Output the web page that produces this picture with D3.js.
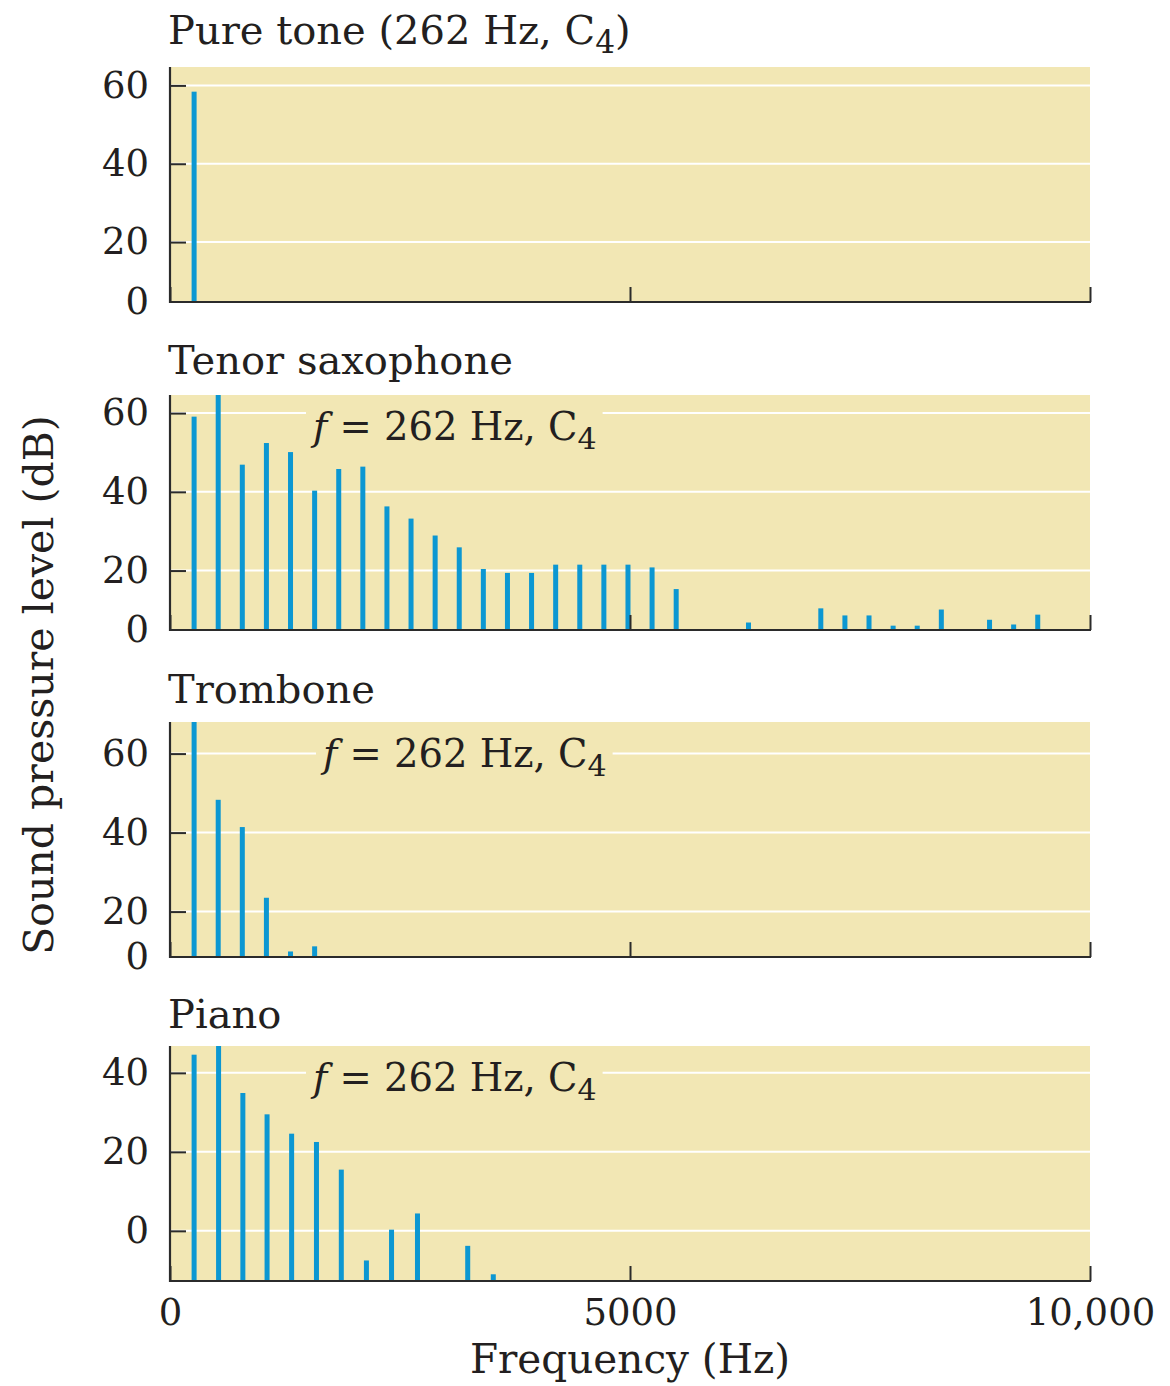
<!DOCTYPE html>
<html><head><meta charset="utf-8">
<script src="https://cdn.jsdelivr.net/npm/d3@7"></script>
<style>
html,body{margin:0;padding:0;background:#fff;}
svg text{font-family:"DejaVu Serif","Liberation Serif",serif;fill:#231f20;}
</style></head>
<body><svg id="chart" width="1170" height="1386"></svg>
<script>
// ---------- data ----------
const panelTitles = ["Pure tone (262 Hz, C_4)", "Tenor saxophone", "Trombone", "Piano"];
const annotationText = "f = 262 Hz, C_4";

const freqPure = [262];
const dbPure = [58.4];

const freqSax = [262,524,786,1048,1310,1572,1834,2096,2358,2620,2882,3144,3406,3668,3930,4192,4454,4716,4978,5240,5502,
                 6288,7074,7336,7598,7860,8122,8384,8908,9170,9432];
const dbSax = [59.1,64.6,46.9,52.4,50.1,40.3,45.8,46.4,36.3,33.2,28.9,25.9,20.4,19.4,19.4,21.5,21.5,21.5,21.5,20.8,15.3,
               6.8,10.4,8.6,8.6,6.0,6.0,10.1,7.5,6.3,8.8];

const freqTrombone = [262,524,786,1048,1310,1572];
const dbTrombone = [68,48.3,41.4,23.5,9.9,11.2];

const freqPiano = [262,528,792,1055,1322,1592,1862,2135,2408,2690,3236,3514];
const dbPiano = [44.6,46.8,34.9,29.5,24.6,22.5,15.5,-7.5,0.3,4.4,-3.8,-11.0];

const yDomains = [[4.7,64.7],[4.9,64.6],[8.5,68],[-12.7,46.8]];
const yTickValues = [[20,40,60],[20,40,60],[20,40,60],[0,20,40]];
const zeroLabelAtBottom = [true,true,true,false];
const showAnnotation = [false,true,true,true];

const xDomain = [0,10000];
const xTickValues = [0,5000,10000];
const xTickLabels = ["0","5000","10,000"];
const xAxisTitle = "Frequency (Hz)";
const yAxisTitle = "Sound pressure level (dB)";

// ---------- layout ----------
const freqs = [freqPure, freqSax, freqTrombone, freqPiano];
const dbs = [dbPure, dbSax, dbTrombone, dbPiano];
const plotLeft = 170, plotRight = 1090;
const panelTops = [67,395,722,1046];
const panelHeight = 235;
const titleOffsets = [23,21,19,18];
const annotationX = [313,313,323,313];
const annotationDy = 45;
const bgColor = "#f2e7b4";
const barColor = "#0c97d2";
const axisColor = "#2b2b2b";
const fontSize = 37;
const titleSize = 40;
const axisTitleSize = 40.5;

const svg = d3.select("#chart");
const x = d3.scaleLinear().domain(xDomain).range([plotLeft, plotRight]);

function richText(sel, str, size, opts={}) {
  // "_4" => subscript 4 ; leading "f" italic if opts.italicF
  const parts = str.split("_");
  if (opts.italicF && parts[0].startsWith("f")) {
    sel.append("tspan").attr("font-style","italic").text("f");
    sel.append("tspan").text(parts[0].slice(1));
  } else {
    sel.append("tspan").text(parts[0]);
  }
  for (let i=1;i<parts.length;i++){
    const sub = parts[i][0], rest = parts[i].slice(1);
    sel.append("tspan").attr("font-size", size*0.78).attr("dy", 9).text(sub);
    if (rest.length) sel.append("tspan").attr("dy", -9).text(rest);
  }
}

panelTitles.forEach((title, i) => {
  const top = panelTops[i], bottom = top + panelHeight;
  const y = d3.scaleLinear().domain(yDomains[i]).range([bottom, top]).clamp(true);
  const g = svg.append("g");

  g.append("rect").attr("x", plotLeft).attr("y", top)
    .attr("width", plotRight - plotLeft).attr("height", panelHeight).attr("fill", bgColor);

  g.append("g").selectAll("line").data(yTickValues[i]).join("line")
    .attr("x1", plotLeft).attr("x2", plotRight)
    .attr("y1", d => y(d)).attr("y2", d => y(d))
    .attr("stroke", "#fff").attr("stroke-width", 2);

  // annotation
  if (showAnnotation[i]) {
    const t = g.append("text").attr("x", annotationX[i]).attr("y", top + annotationDy)
      .attr("font-size", 38.5);
    richText(t, annotationText, 38.5, {italicF:true});
    const bb = t.node().getBBox();
    g.insert("rect", "text").attr("x", bb.x - 4).attr("y", bb.y + 2)
      .attr("width", bb.width + 10).attr("height", bb.height - 4).attr("fill", bgColor);
  }

  // bars
  g.append("g").selectAll("rect").data(freqs[i].map((f,k)=>({f, db: dbs[i][k]}))).join("rect")
    .attr("x", d => x(d.f) - 2.5).attr("width", 5)
    .attr("y", d => y(d.db)).attr("height", d => bottom - y(d.db))
    .attr("fill", barColor);

  // y axis
  const yt = yTickValues[i].concat(zeroLabelAtBottom[i] ? [yDomains[i][0]] : []);
  const ya = g.append("g").attr("transform", `translate(${plotLeft},0)`)
    .call(d3.axisLeft(y).tickValues(yt).tickSize(-16).tickPadding(21)
      .tickFormat(d => (zeroLabelAtBottom[i] && d === yDomains[i][0]) ? "0" : d3.format("d")(d)));
  ya.select(".domain").remove();
  ya.selectAll(".tick line").attr("stroke", axisColor).attr("stroke-width", 2)
    .filter(d => d === yDomains[i][0]).remove();
  ya.selectAll(".tick text").attr("font-size", fontSize).attr("font-family", "DejaVu Serif").attr("fill", "#231f20");
  g.append("line").attr("x1", plotLeft).attr("x2", plotLeft).attr("y1", top).attr("y2", bottom + 1)
    .attr("stroke", axisColor).attr("stroke-width", 2.2);

  // x axis
  const xa = g.append("g").attr("transform", `translate(0,${bottom})`)
    .call(d3.axisBottom(x).tickValues(xTickValues).tickSize(-15).tickPadding(18)
      .tickFormat((d,k) => i === 3 ? xTickLabels[k] : ""));
  xa.select(".domain").remove();
  xa.selectAll(".tick line").attr("stroke", axisColor).attr("stroke-width", 2);
  xa.selectAll(".tick text").attr("font-size", fontSize).attr("font-family", "DejaVu Serif").attr("fill", "#231f20");
  g.append("line").attr("x1", plotLeft - 1).attr("x2", plotRight + 1).attr("y1", bottom).attr("y2", bottom)
    .attr("stroke", axisColor).attr("stroke-width", 2.2);

  // title
  const tt = g.append("text").attr("x", plotLeft - 2).attr("y", top - titleOffsets[i]).attr("font-size", titleSize);
  richText(tt, title, titleSize);
});

svg.append("text").attr("x", (plotLeft + plotRight) / 2).attr("y", 1373)
  .attr("text-anchor", "middle").attr("font-size", axisTitleSize).text(xAxisTitle);

svg.append("text").attr("transform", "translate(53,685) rotate(-90)")
  .attr("text-anchor", "middle").attr("font-size", axisTitleSize + 0.5).text(yAxisTitle);
</script></body></html>
